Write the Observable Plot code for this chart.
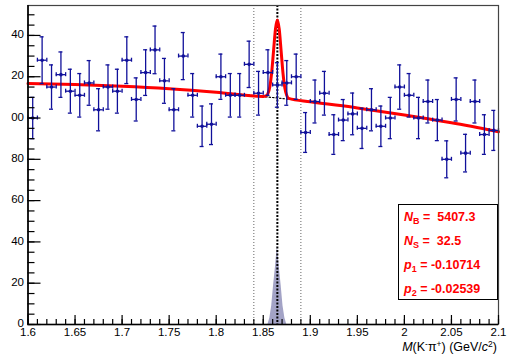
<!DOCTYPE html>
<html><head><meta charset="utf-8">
<script src="https://cdn.jsdelivr.net/npm/d3@7"></script>
<script src="https://cdn.jsdelivr.net/npm/@observablehq/plot@0.6"></script>
<style>
body{margin:0;background:#fff;}
#wrap{position:relative;width:508px;height:360px;font-family:"Liberation Sans",Arial,Helvetica,sans-serif;overflow:hidden;}
#stats{position:absolute;left:398px;top:204px;width:100px;height:96px;border:1px solid #000;background:#fff;box-sizing:border-box;color:#f00;font-weight:bold;font-size:12.5px;padding-left:5px;}
#stats div{height:24px;line-height:24px;white-space:pre;}
#stats sub{font-size:9px;vertical-align:-3px;line-height:0;}
#xtitle{position:absolute;right:11px;top:341px;font-size:12.5px;line-height:12px;white-space:pre;color:#000;}
#xtitle sup{font-size:8.5px;vertical-align:4px;line-height:0;}
</style></head>
<body><div id="wrap"></div>
<script>
// bin centres (GeV/c^2) and counts per 0.01 bin
const massX = [1.605,1.615,1.625,1.635,1.645,1.655,1.665,1.675,1.685,1.695,
               1.705,1.715,1.725,1.735,1.745,1.755,1.765,1.775,1.785,1.795,
               1.805,1.815,1.825,1.835,1.845,1.855,1.865,1.875,1.885,1.895,
               1.905,1.915,1.925,1.935,1.945,1.955,1.965,1.975,1.985,1.995,
               2.005,2.015,2.025,2.035,2.045,2.055,2.065,2.075,2.085,2.095];
const counts = [100,128,115,121,113,111,117,104,115,113,
                128,109,122,133,118,104,130,111,96,97,
                120,111,111,126,112,122,116,117,120,93,
                108,112,92,99,102,95,104,96,100,115,
                111,100,108,99,80,109,83,108,92,94];
const binHalf = 0.005;

// total fit curve
const fitX = [1.60,1.65,1.70,1.75,1.80,1.85,1.853,1.855,1.857,1.859,1.861,1.863,1.865,
              1.867,1.869,1.871,1.873,1.875,1.877,1.90,1.95,2.00,2.05,2.10];
const fitY = [116.7,116.2,115.4,114.2,112.5,110.4,110.7,111.9,115.2,122.2,132.8,143.2,147.5,
              143.0,132.4,121.6,114.4,110.9,109.5,107.9,104.9,101.5,97.7,93.4];
// background component
const bgX = [1.60,1.65,1.70,1.75,1.80,1.85,1.90,1.95,2.00,2.05,2.10];
const bgY = [116.7,116.2,115.4,114.2,112.5,110.4,107.9,104.9,101.5,97.7,93.4];
// signal shape (grey)
const sigX = [1.855,1.857,1.859,1.861,1.863,1.864,1.865,1.866,1.867,1.869,1.871,1.873,1.875];
const sigY = [0,3,9,19,28,33,38,33,28,19,9,3,0];
// signal window lines
const windowX = [1.84,1.89];
const centreX = [1.865];

const xMajor = [1.6,1.65,1.7,1.75,1.8,1.85,1.9,1.95,2.0,2.05,2.1];
const xMinor = d3.range(1.6,2.1001,0.01);
const yMajor = [0,20,40,60,80,100,120,140];
const yMinor = d3.range(0,155,5);

const pts = massX.map((x,i)=>({x, n:counts[i], e:Math.sqrt(counts[i])}));
const fit = fitX.map((x,i)=>({x, y:fitY[i]}));
const bg = bgX.map((x,i)=>({x, y:bgY[i]}));
const sig = sigX.map((x,i)=>({x, y:sigY[i]}));

const navy = "#10109a";
const fmtX = d => String(+d.toFixed(2));
const fmtY = d => d >= 100 ? String(d).slice(1) : String(d);

const plot = Plot.plot({
  width: 508, height: 360,
  marginLeft: 27.5, marginRight: 10, marginTop: 5, marginBottom: 36,
  style: {fontFamily: '"Liberation Sans", Arial, sans-serif', fontSize: "12px", background: "#fff", color: "#000"},
  x: {domain: [1.6, 2.1], axis: null},
  y: {domain: [0, 154.5], axis: null},
  marks: [
    Plot.areaY(sig, {x: "x", y: "y", fill: "#a3a3c6", curve: "linear"}),
    Plot.ruleX(windowX, {stroke: "#666", strokeWidth: 1, strokeDasharray: "1,2"}),
    Plot.ruleX(centreX, {stroke: "#000", strokeWidth: 2, strokeDasharray: "2,1.5"}),
    Plot.line(bg, {x: "x", y: "y", stroke: "#000", strokeWidth: 1.2, strokeDasharray: "1.5,2", curve: "monotone-x"}),
    Plot.line(fit, {x: "x", y: "y", stroke: "#ff0000", strokeWidth: 3, curve: "monotone-x"}),
    Plot.ruleX(pts, {x: "x", y1: d => d.n - d.e, y2: d => d.n + d.e, stroke: navy, strokeWidth: 1.3}),
    Plot.ruleY(pts, {y: d => d.n + d.e, x1: "x", x2: "x", insetLeft: -2, insetRight: -2, stroke: navy, strokeWidth: 1.3}),
    Plot.ruleY(pts, {y: d => d.n - d.e, x1: "x", x2: "x", insetLeft: -2, insetRight: -2, stroke: navy, strokeWidth: 1.3}),
    Plot.ruleY(pts, {y: "n", x1: d => d.x - binHalf, x2: d => d.x + binHalf, stroke: navy, strokeWidth: 1.3}),
    Plot.ruleX(pts, {x: d => d.x - binHalf, y1: "n", y2: "n", insetTop: -2, insetBottom: -2, stroke: navy, strokeWidth: 1.3}),
    Plot.ruleX(pts, {x: d => d.x + binHalf, y1: "n", y2: "n", insetTop: -2, insetBottom: -2, stroke: navy, strokeWidth: 1.3}),
    Plot.dot(pts, {x: "x", y: "n", r: 1.8, fill: navy, stroke: null}),
    Plot.frame({stroke: "#444", strokeWidth: 1.2}),
    Plot.axisX(xMinor, {tickSize: -5, tickFormat: () => "", label: null, strokeWidth: 1.2}),
    Plot.axisX(xMajor, {tickSize: -9, tickFormat: () => "", label: null, strokeWidth: 1.2}),
    Plot.text(xMajor, {x: d => d, text: fmtX, frameAnchor: "bottom", lineAnchor: "top", dy: 3, fontSize: 11.5}),
    Plot.axisY(yMinor, {tickSize: -7, tickFormat: () => "", label: null, strokeWidth: 1.2}),
    Plot.axisY(yMajor, {tickSize: -13, tickFormat: () => "", label: null, strokeWidth: 1.2}),
    Plot.text(yMajor, {y: d => d, text: fmtY, frameAnchor: "left", textAnchor: "end", dx: -4, dy: -1, fontSize: 11.5}),
    Plot.ruleX([1.6], {stroke: "#000", strokeWidth: 1.6}),
    Plot.ruleY([0], {stroke: "#000", strokeWidth: 1.6})
  ]
});
const wrap = document.getElementById("wrap");
wrap.appendChild(plot);

const stats = document.createElement("div");
stats.id = "stats";
stats.innerHTML =
  '<div><i>N</i><sub>B</sub> =  5407.3</div>' +
  '<div><i>N</i><sub>S</sub> =  32.5</div>' +
  '<div><i>p</i><sub>1</sub> = -0.10714</div>' +
  '<div><i>p</i><sub>2</sub> = -0.02539</div>';
wrap.appendChild(stats);

const xt = document.createElement("div");
xt.id = "xtitle";
xt.innerHTML = '<i>M</i>(K<sup>-</sup>π<sup>+</sup>) (GeV/<i>c</i><sup>2</sup>)';
wrap.appendChild(xt);
</script></body></html>
